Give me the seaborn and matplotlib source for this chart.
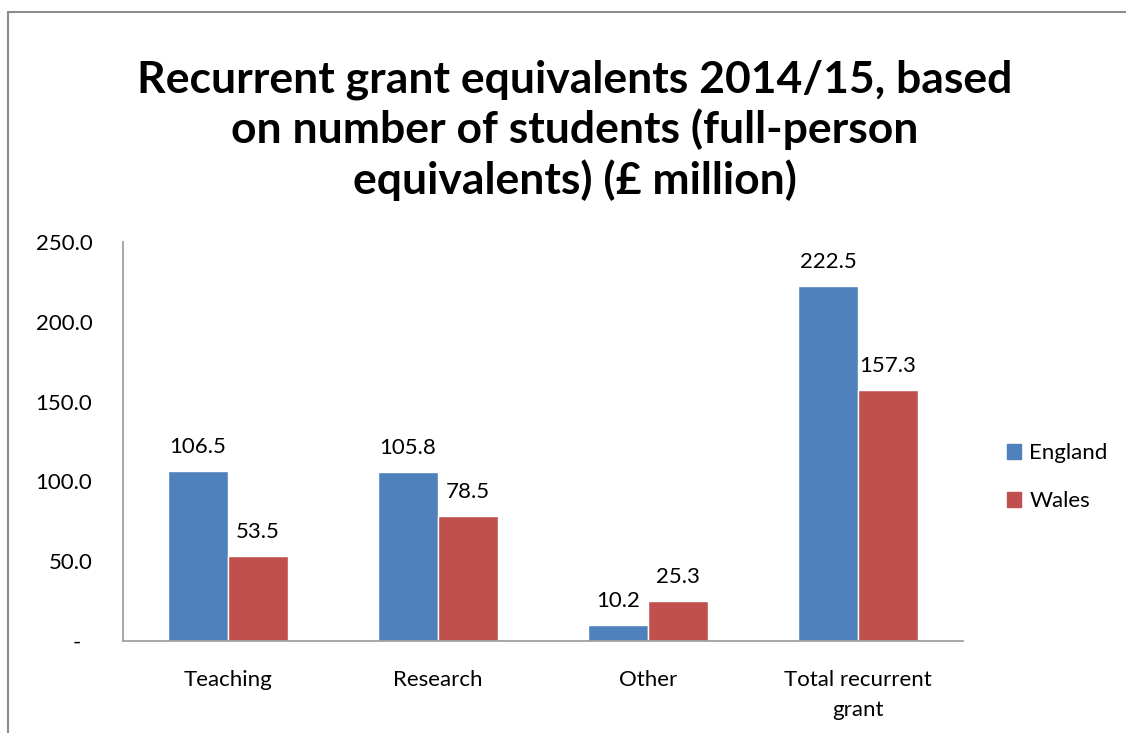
import matplotlib
matplotlib.use("Agg")
import matplotlib.pyplot as plt
import seaborn as sns
import pandas as pd
from matplotlib.lines import Line2D

categories = ["Teaching", "Research", "Other", "Total recurrent\ngrant"]
england = [106.5, 105.8, 10.2, 222.5]
wales = [53.5, 78.5, 25.3, 157.3]
series = ["England", "Wales"]
colors = ["#4F81BD", "#C0504D"]
yticks = [0, 50, 100, 150, 200, 250]
ytick_labels = ["-  ", "50.0", "100.0", "150.0", "200.0", "250.0"]
title = "Recurrent grant equivalents 2014/15, based\non number of students (full-person\nequivalents) (£ million)"

df = pd.DataFrame({
    "category": categories * 2,
    "value": england + wales,
    "series": [series[0]] * len(categories) + [series[1]] * len(categories),
})

sns.set_theme(style="white")
plt.rcParams["font.family"] = ["Lato", "DejaVu Sans"]
plt.rcParams["text.color"] = "black"
plt.rcParams["xtick.color"] = "black"
plt.rcParams["ytick.color"] = "black"

W, H = 1126, 733
fig = plt.figure(figsize=(W / 100, H / 100), dpi=100)
ax = fig.add_axes([123 / W, (H - 641) / H, 840 / W, (641 - 242) / H])

sns.barplot(data=df, x="category", y="value", hue="series", palette=colors,
            width=0.572, saturation=1, ax=ax, legend=False)

ax.set_ylim(0, 250)
ax.set_xlim(-0.5, len(categories) - 0.5)
ax.set_yticks(yticks)
ax.set_yticklabels(ytick_labels)
ax.set_xlabel("")
ax.set_ylabel("")
ax.tick_params(axis="both", length=0, labelsize=16, colors="black")
ax.tick_params(axis="y", pad=22)
ax.tick_params(axis="x", pad=21)
for lbl in ax.get_yticklabels():
    lbl.set_horizontalalignment("right")
for lbl in ax.get_xticklabels():
    lbl.set_linespacing(1.6)

for side in ["top", "right"]:
    ax.spines[side].set_visible(False)
for side in ["left", "bottom"]:
    ax.spines[side].set_color("#A0A0A0")
    ax.spines[side].set_linewidth(1.3)

for container in ax.containers:
    ax.bar_label(container, fmt="%.1f", padding=10, fontsize=16, color="black")

handles = [plt.Rectangle((0, 0), 1, 1, color=c) for c in colors]
fig.legend(handles, series, loc="center left", bbox_to_anchor=(987 / W, 1 - 477 / H),
           frameon=False, fontsize=16, handlelength=0.65, handleheight=0.65,
           handletextpad=0.35, labelspacing=1.25)

fig.text(575 / W, 1 - 130 / H, title, ha="center", va="center", fontsize=32,
         fontweight="bold", linespacing=1.25, color="black")

# outer frame (left and top edges)
fig.add_artist(Line2D([8 / W, 8 / W], [0, 1 - 12 / H], transform=fig.transFigure,
                      color="#8C8C8C", linewidth=1.5))
fig.add_artist(Line2D([8 / W, 1], [1 - 12 / H, 1 - 12 / H], transform=fig.transFigure,
                      color="#8C8C8C", linewidth=1.5))

fig.savefig("out.png", dpi=100)
